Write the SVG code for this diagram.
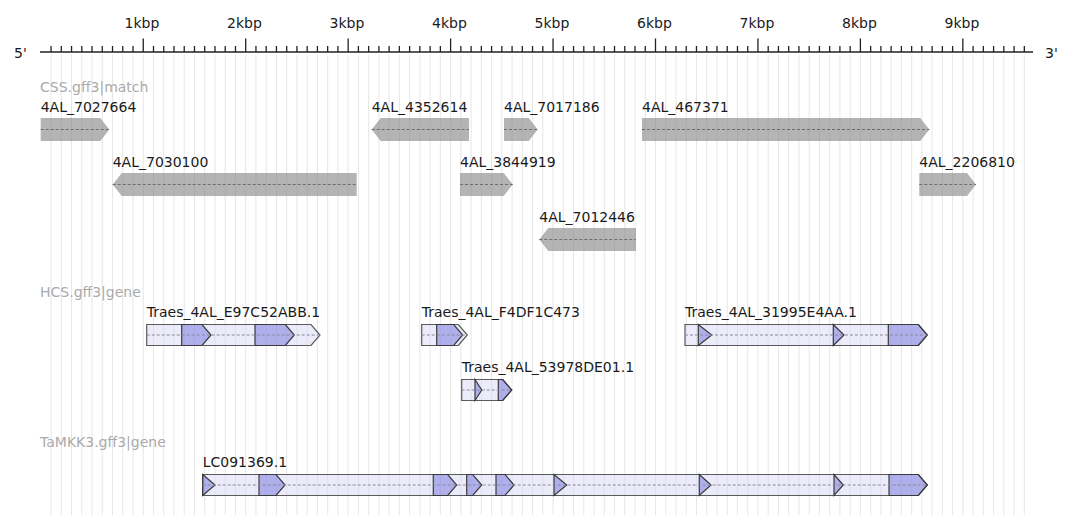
<svg xmlns="http://www.w3.org/2000/svg" width="1067" height="515" viewBox="0 0 1067 515">
  <style>
    text { font-family: "DejaVu Sans", "Liberation Sans", sans-serif; font-size: 14px; fill: #1a1a1a; }
    .track { fill: #aaaaaa; }
    .axis { text-anchor: middle; }
    .grid { stroke: #e6e6e6; stroke-width: 1; fill: none; }
    .rule { stroke: #222; stroke-width: 1.6; fill: none; }
    .tick { stroke: #222; stroke-width: 1.3; fill: none; }
    .match { fill: #8c8c8c; fill-opacity: 0.65; stroke: none; }
    .gene { fill: #d8d8f5; fill-opacity: 0.5; stroke: #5a5a5a; stroke-width: 1.2; stroke-linejoin: miter; }
    .cds { fill: #7878dd; fill-opacity: 0.53; stroke: #3a3a3a; stroke-width: 1.2; }
    .mline { stroke: #6e6e6e; stroke-width: 1; stroke-dasharray: 3 2; }
    .gline { stroke: #8a8a9a; stroke-width: 1; stroke-dasharray: 3 2; }
  </style>

  <rect width="1067" height="515" fill="#ffffff"/>

  <!-- background grid, one line per 100 bp -->
  <path id="grid" class="grid" d="M51.05 55V515M61.29 55V515M71.54 55V515M81.78 55V515M92.03 55V515M102.27 55V515M112.52 55V515M122.76 55V515M133.01 55V515M143.25 55V515M153.5 55V515M163.74 55V515M173.99 55V515M184.23 55V515M194.48 55V515M204.72 55V515M214.97 55V515M225.21 55V515M235.46 55V515M245.7 55V515M255.95 55V515M266.19 55V515M276.44 55V515M286.68 55V515M296.93 55V515M307.17 55V515M317.42 55V515M327.66 55V515M337.91 55V515M348.15 55V515M358.4 55V515M368.64 55V515M378.89 55V515M389.13 55V515M399.38 55V515M409.62 55V515M419.87 55V515M430.11 55V515M440.36 55V515M450.6 55V515M460.85 55V515M471.09 55V515M481.34 55V515M491.58 55V515M501.83 55V515M512.07 55V515M522.32 55V515M532.56 55V515M542.81 55V515M553.05 55V515M563.3 55V515M573.54 55V515M583.79 55V515M594.03 55V515M604.28 55V515M614.52 55V515M624.77 55V515M635.01 55V515M645.26 55V515M655.5 55V515M665.75 55V515M675.99 55V515M686.24 55V515M696.48 55V515M706.73 55V515M716.97 55V515M727.22 55V515M737.46 55V515M747.71 55V515M757.95 55V515M768.2 55V515M778.44 55V515M788.69 55V515M798.93 55V515M809.18 55V515M819.42 55V515M829.67 55V515M839.91 55V515M850.16 55V515M860.4 55V515M870.65 55V515M880.89 55V515M891.14 55V515M901.38 55V515M911.63 55V515M921.87 55V515M932.12 55V515M942.36 55V515M952.61 55V515M962.85 55V515M973.1 55V515M983.34 55V515M993.59 55V515M1003.83 55V515M1014.08 55V515M1024.32 55V515"/>

  <!-- ruler -->
  <g id="ruler">
    <line class="rule" x1="40" y1="52" x2="1033" y2="52"/>
    <path class="tick" d="M51.05 46V52M61.29 46V52M71.54 46V52M81.78 46V52M92.03 46V52M102.27 46V52M112.52 46V52M122.76 46V52M133.01 46V52M153.5 46V52M163.74 46V52M173.99 46V52M184.23 46V52M194.48 46V52M204.72 46V52M214.97 46V52M225.21 46V52M235.46 46V52M255.95 46V52M266.19 46V52M276.44 46V52M286.68 46V52M296.93 46V52M307.17 46V52M317.42 46V52M327.66 46V52M337.91 46V52M358.4 46V52M368.64 46V52M378.89 46V52M389.13 46V52M399.38 46V52M409.62 46V52M419.87 46V52M430.11 46V52M440.36 46V52M460.85 46V52M471.09 46V52M481.34 46V52M491.58 46V52M501.83 46V52M512.07 46V52M522.32 46V52M532.56 46V52M542.81 46V52M563.3 46V52M573.54 46V52M583.79 46V52M594.03 46V52M604.28 46V52M614.52 46V52M624.77 46V52M635.01 46V52M645.26 46V52M665.75 46V52M675.99 46V52M686.24 46V52M696.48 46V52M706.73 46V52M716.97 46V52M727.22 46V52M737.46 46V52M747.71 46V52M768.2 46V52M778.44 46V52M788.69 46V52M798.93 46V52M809.18 46V52M819.42 46V52M829.67 46V52M839.91 46V52M850.16 46V52M870.65 46V52M880.89 46V52M891.14 46V52M901.38 46V52M911.63 46V52M921.87 46V52M932.12 46V52M942.36 46V52M952.61 46V52M973.1 46V52M983.34 46V52M993.59 46V52M1003.83 46V52M1014.08 46V52M1024.32 46V52"/>
    <path class="tick" d="M143.25 38.5V52M245.7 38.5V52M348.15 38.5V52M450.6 38.5V52M553.05 38.5V52M655.5 38.5V52M757.95 38.5V52M860.4 38.5V52M962.85 38.5V52"/>
    <text class="axis" x="142" y="28">1kbp</text>
    <text class="axis" x="244.5" y="28">2kbp</text>
    <text class="axis" x="347" y="28">3kbp</text>
    <text class="axis" x="449.5" y="28">4kbp</text>
    <text class="axis" x="552" y="28">5kbp</text>
    <text class="axis" x="654.5" y="28">6kbp</text>
    <text class="axis" x="757" y="28">7kbp</text>
    <text class="axis" x="859.5" y="28">8kbp</text>
    <text class="axis" x="962" y="28">9kbp</text>
    <text x="14" y="58">5'</text>
    <text x="1045" y="58">3'</text>
  </g>

  <!-- track: CSS.gff3|match -->
  <g id="track-css">
    <text class="track" x="40" y="92">CSS.gff3|match</text>

    <g id="m-4AL_7027664">
      <polygon class="match" points="40.7,118 100.3,118 109.3,129.5 100.3,141 40.7,141"/>
      <line class="mline" x1="40.7" y1="129.5" x2="109.3" y2="129.5"/>
      <text x="40.7" y="111.5">4AL_7027664</text>
    </g>
    <g id="m-4AL_4352614">
      <polygon class="match" points="371.7,129.5 380.7,118 469,118 469,141 380.7,141"/>
      <line class="mline" x1="371.7" y1="129.5" x2="469" y2="129.5"/>
      <text x="371.7" y="111.5">4AL_4352614</text>
    </g>
    <g id="m-4AL_7017186">
      <polygon class="match" points="504,118 528.7,118 537.7,129.5 528.7,141 504,141"/>
      <line class="mline" x1="504" y1="129.5" x2="537.7" y2="129.5"/>
      <text x="504" y="111.5">4AL_7017186</text>
    </g>
    <g id="m-4AL_467371">
      <polygon class="match" points="642,118 920.3,118 929.3,129.5 920.3,141 642,141"/>
      <line class="mline" x1="642" y1="129.5" x2="929.3" y2="129.5"/>
      <text x="642" y="111.5">4AL_467371</text>
    </g>
    <g id="m-4AL_7030100">
      <polygon class="match" points="112.7,184.5 121.7,173 356.7,173 356.7,196 121.7,196"/>
      <line class="mline" x1="112.7" y1="184.5" x2="356.7" y2="184.5"/>
      <text x="112.7" y="166.5">4AL_7030100</text>
    </g>
    <g id="m-4AL_3844919">
      <polygon class="match" points="460,173 503.7,173 512.7,184.5 503.7,196 460,196"/>
      <line class="mline" x1="460" y1="184.5" x2="512.7" y2="184.5"/>
      <text x="460" y="166.5">4AL_3844919</text>
    </g>
    <g id="m-4AL_2206810">
      <polygon class="match" points="919.3,173 967,173 976,184.5 967,196 919.3,196"/>
      <line class="mline" x1="919.3" y1="184.5" x2="976" y2="184.5"/>
      <text x="919.3" y="166.5">4AL_2206810</text>
    </g>
    <g id="m-4AL_7012446">
      <polygon class="match" points="539.3,239.5 548.3,228 636,228 636,251 548.3,251"/>
      <line class="mline" x1="539.3" y1="239.5" x2="636" y2="239.5"/>
      <text x="539.3" y="221.5">4AL_7012446</text>
    </g>
  </g>

  <!-- track: HCS.gff3|gene -->
  <g id="track-hcs">
    <text class="track" x="40" y="296.5">HCS.gff3|gene</text>

    <g id="g-Traes_4AL_E97C52ABB.1">
      <polygon class="gene" points="146.7,324.5 311,324.5 320,335 311,345.5 146.7,345.5"/>
      <polygon class="cds" points="181.7,324.5 202,324.5 211,335 202,345.5 181.7,345.5"/>
      <polygon class="cds" points="255,324.5 285.3,324.5 294.3,335 285.3,345.5 255,345.5"/>
      <line class="gline" x1="146.7" y1="335" x2="320" y2="335"/>
      <text x="146.7" y="316.5">Traes_4AL_E97C52ABB.1</text>
    </g>
    <g id="g-Traes_4AL_F4DF1C473">
      <polygon class="gene" points="421.7,324.5 458.3,324.5 467.3,335 458.3,345.5 421.7,345.5"/>
      <polygon class="cds" points="436.7,324.5 453.7,324.5 462.7,335 453.7,345.5 436.7,345.5"/>
      <line class="gline" x1="421.7" y1="335" x2="467.3" y2="335"/>
      <text x="421.7" y="316.5">Traes_4AL_F4DF1C473</text>
    </g>
    <g id="g-Traes_4AL_31995E4AA.1">
      <polygon class="gene" points="685,324.5 918.3,324.5 927.3,335 918.3,345.5 685,345.5"/>
      <polygon class="cds" points="698.3,324.5 711.7,335 698.3,345.5"/>
      <polygon class="cds" points="833.3,324.5 844,335 833.3,345.5"/>
      <polygon class="cds" points="888.3,324.5 918.3,324.5 927.3,335 918.3,345.5 888.3,345.5"/>
      <line class="gline" x1="685" y1="335" x2="927.3" y2="335"/>
      <text x="685" y="316.5">Traes_4AL_31995E4AA.1</text>
    </g>
    <g id="g-Traes_4AL_53978DE01.1">
      <polygon class="gene" points="461.7,379.5 502.7,379.5 511.7,390 502.7,400.5 461.7,400.5"/>
      <polygon class="cds" points="475,379.5 481.7,390 475,400.5"/>
      <polygon class="cds" points="498.3,379.5 502.7,379.5 511.7,390 502.7,400.5 498.3,400.5"/>
      <line class="gline" x1="461.7" y1="390" x2="511.7" y2="390"/>
      <text x="461.7" y="371.5">Traes_4AL_53978DE01.1</text>
    </g>
  </g>

  <!-- track: TaMKK3.gff3|gene -->
  <g id="track-tamkk3">
    <text class="track" x="40" y="447">TaMKK3.gff3|gene</text>

    <g id="g-LC091369.1">
      <polygon class="gene" points="202.7,474.5 918.3,474.5 927.3,485 918.3,495.5 202.7,495.5"/>
      <polygon class="cds" points="202.7,474.5 215,485 202.7,495.5"/>
      <polygon class="cds" points="259,474.5 276,474.5 285,485 276,495.5 259,495.5"/>
      <polygon class="cds" points="433.3,474.5 447.7,474.5 456.7,485 447.7,495.5 433.3,495.5"/>
      <polygon class="cds" points="466.7,474.5 472.7,474.5 481.7,485 472.7,495.5 466.7,495.5"/>
      <polygon class="cds" points="496,474.5 505,474.5 514,485 505,495.5 496,495.5"/>
      <polygon class="cds" points="554,474.5 566.7,485 554,495.5"/>
      <polygon class="cds" points="699.3,474.5 711,485 699.3,495.5"/>
      <polygon class="cds" points="834,474.5 843.3,485 834,495.5"/>
      <polygon class="cds" points="889,474.5 918.3,474.5 927.3,485 918.3,495.5 889,495.5"/>
      <line class="gline" x1="202.7" y1="485" x2="927.3" y2="485"/>
      <text x="202.7" y="466.5">LC091369.1</text>
    </g>
  </g>
</svg>
